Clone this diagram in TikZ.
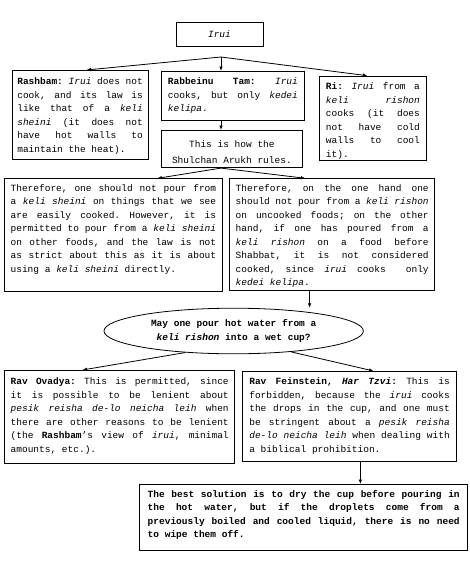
\documentclass[tikz,border=0pt]{standalone}
\usepackage{fontspec}
\setmainfont{Liberation Mono}
\usetikzlibrary{arrows.meta,shapes.geometric}
\tikzset{
  txt/.style={font=\fontsize{9.5pt}{13.5pt}\selectfont},
  box/.style={txt, draw, line width=0.8pt, inner sep=0pt, anchor=north west, align=justify,
    execute at begin node={\frenchspacing\spaceskip=5.7pt plus 8pt minus 0.5pt\xspaceskip=\spaceskip\tolerance=10000\hbadness=10000\hyphenpenalty=10000\relax}},
  cbox/.style={txt, draw, line width=0.8pt, inner sep=0pt, anchor=north west, align=center,
    execute at begin node={\frenchspacing\spaceskip=5.7pt\xspaceskip=5.7pt\relax}},
  arr/.style={line width=0.8pt, -{Latex[length=4.5pt,width=3.6pt]}},
}
\begin{document}
\begin{tikzpicture}[x=1pt,y=-1pt]
\useasboundingbox (0,0) rectangle (470,563);

\node[draw, line width=0.8pt, txt, minimum width=87pt, minimum height=24pt, inner sep=0pt] (irui) at (219.5,34) {\textit{Irui}};
\coordinate (s1) at (221,57);

\node[box, minimum width=136pt, text width=125.5pt, text height=14.2pt, text depth=75.1pt] (rashbam) at (11.7,70)
{\textbf{Rashbam:} \textit{Irui} does not\linebreak cook, and its law is\linebreak like that of a \textit{keli}\linebreak \textit{sheini} (it does not\linebreak have hot walls to\linebreak maintain the heat).};

\node[box, minimum width=142.4pt, text width=130pt, text height=13.2pt, text depth=36.1pt] (tam) at (161.3,71)
{\textbf{Rabbeinu Tam:} \textit{Irui}\linebreak cooks, but only \textit{kedei}\linebreak \textit{kelipa}.};

\node[box, minimum width=106.4pt, text width=94pt, text height=13.5pt, text depth=71.1pt] (ri) at (319.3,75.7)
{\textbf{Ri:} \textit{Irui} from a\linebreak \textit{keli rishon}\linebreak cooks (it does\linebreak not have cold\linebreak walls to cool\linebreak it).};

\node[cbox, minimum width=140.4pt, text width=130pt, text height=17.5pt, text depth=19.8pt] (shulchan) at (161.3,130)
{This is how the\\[2pt] Shulchan Arukh rules.};

\node[box, minimum width=217.4pt, text width=205.5pt, text height=12.5pt, text depth=99.7pt] (left) at (4.3,178.3)
{Therefore, one should not pour from\linebreak a \textit{keli sheini} on things that we see\linebreak are easily cooked. However, it is\linebreak permitted to pour from a \textit{keli sheini}\linebreak on other foods, and the law is not\linebreak as strict about this as it is about\linebreak using a \textit{keli sheini} directly.};

\node[box, minimum width=205pt, text width=193pt, text height=12.5pt, text depth=99.5pt] (right) at (229.3,178.3)
{Therefore, on the one hand one\linebreak should not pour from a \textit{keli rishon}\linebreak on uncooked foods; on the other\linebreak hand, if one has poured from a\linebreak \textit{keli rishon} on a food before\linebreak Shabbat, it is not considered\linebreak cooked, since \textit{irui} cooks\ \ only\linebreak \textit{kedei kelipa}.};

\node[ellipse, draw, line width=0.8pt, minimum width=259.4pt, minimum height=45.6pt, inner sep=0pt, align=center, font=\fontsize{9.5pt}{14pt}\selectfont\bfseries, execute at begin node={\spaceskip=5.7pt\xspaceskip=5.7pt\relax}] (ell) at (233.7,331)
{May one pour hot water from a\\ \textit{keli rishon} into a wet cup?};

\node[box, minimum width=230pt, text width=218pt, text height=14.2pt, text depth=79.1pt] (ovadya) at (4.3,370)
{\textbf{Rav Ovadya:} This is permitted, since\linebreak it is possible to be lenient about\linebreak \textit{pesik reisha de-lo neicha leih} when\linebreak there are other reasons to be lenient\linebreak (the \textbf{Rashbam}'s view of \textit{irui}, minimal\linebreak amounts, etc.).};

\node[box, minimum width=213.7pt, text width=200.5pt, text height=13.2pt, text depth=76.5pt] (feinstein) at (242.3,371)
{\textbf{Rav Feinstein, \textit{Har Tzvi}:} This is\linebreak forbidden, because the \textit{irui} cooks\linebreak the drops in the cup, and one must\linebreak be stringent about a \textit{pesik reisha}\linebreak \textit{de-lo neicha leih} when dealing with\linebreak a biblical prohibition.};

\node[box, font=\fontsize{9.5pt}{13.5pt}\selectfont\bfseries, minimum width=328pt, text width=312pt, text height=12.8pt, text depth=53.2pt] (final) at (139.3,484)
{The best solution is to dry the cup before pouring in\linebreak the hot water, but if the droplets come from a\linebreak previously boiled and cooled liquid, there is no need\linebreak to wipe them off.};

% connectors
\draw[arr] (s1) -- ([xshift=6.3pt]rashbam.north);
\draw[arr] (s1) -- (tam.north -| s1);
\draw[arr] (s1) -- ([xshift=-5.5pt]ri.north);
\draw[arr] (tam.south -| s1) -- (shulchan.north -| s1);
\coordinate (s2) at (shulchan.south -| s1);
\draw[arr] (s2) -- ([xshift=44pt]left.north);
\draw[arr] (s2) -- ([xshift=-26.8pt]right.north);
\coordinate (r1) at ([xshift=-22.6pt]right.south);
\draw[arr] (r1) -- (r1 |- ell.north);
\draw[arr] (ell.204) -- ([xshift=-37.3pt]ovadya.north);
\draw[arr] (ell.340) -- ([xshift=24.1pt]feinstein.north);
\coordinate (f1) at ([xshift=10.8pt]feinstein.south);
\draw[arr] (f1) -- (final.north -| f1);
\end{tikzpicture}
\end{document}
